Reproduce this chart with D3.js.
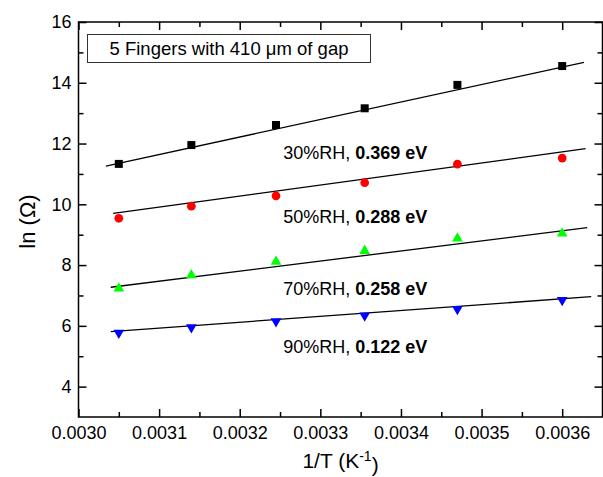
<!DOCTYPE html>
<html>
<head>
<meta charset="utf-8">
<script src="https://cdn.jsdelivr.net/npm/d3@7"></script>
<style>
  body { margin: 0; background: #fff; }
  svg text { font-family: "Liberation Sans", Arial, sans-serif; }
</style>
</head>
<body>
<svg id="chart" width="603" height="477"></svg>
<script>
// inverse temperature, 1/T (K^-1)
var invT = [0.00305, 0.00314, 0.003245, 0.003355, 0.00347, 0.0036];

var rh30 = [11.33, 11.95, 12.61, 13.16, 13.93, 14.55];
var rh50 = [9.54, 9.94, 10.28, 10.71, 11.32, 11.52];
var rh70 = [7.23, 7.67, 8.11, 8.47, 8.88, 9.04];
var rh90 = [5.77, 5.95, 6.15, 6.34, 6.55, 6.85];

// linear fits: [x0, y0, x1, y1]
var fit30 = [0.003034, 11.26, 0.003627, 14.67];
var fit50 = [0.003043, 9.70, 0.003629, 11.83];
var fit70 = [0.003040, 7.27, 0.003631, 9.23];
var fit90 = [0.003040, 5.81, 0.003636, 6.96];

var rhLabels = ["30%RH, ", "50%RH, ", "70%RH, ", "90%RH, "];
var energies = ["0.369 eV", "0.288 eV", "0.258 eV", "0.122 eV"];
var labelY = [11.48, 9.375, 7.015, 5.10];
var labelX = 0.003254;

var xTicks = [0.0030, 0.0031, 0.0032, 0.0033, 0.0034, 0.0035, 0.0036];
var xMinor = [0.00305, 0.00315, 0.00325, 0.00335, 0.00345, 0.00355];
var yTicks = [4, 6, 8, 10, 12, 14, 16];
var yMinor = [5, 7, 9, 11, 13, 15];

var series = [
  {vals: rh30, fit: fit30, shape: d3.symbolSquare, size: 64, color: "#000000", rot: 0},
  {vals: rh50, fit: fit50, shape: d3.symbolCircle, size: 60, color: "#ff0000", rot: 0},
  {vals: rh70, fit: fit70, shape: d3.symbolTriangle, size: 50, color: "#00ff00", rot: 0},
  {vals: rh90, fit: fit90, shape: d3.symbolTriangle, size: 50, color: "#0000ff", rot: 180}
];

var svg = d3.select("#chart"),
    margin = {top: 22, left: 78.5, bottom: 60, right: 0.5},
    width = +svg.attr("width"),
    height = +svg.attr("height");

var x = d3.scaleLinear()
    .domain([0.0030, 0.00365])
    .range([margin.left, width - margin.right]);

var y = d3.scaleLinear()
    .domain([3, 16])
    .range([height - margin.bottom, margin.top]);

var fmt = d3.format(".4f");

// bottom axis with labels, ticks inward
svg.append("g")
    .attr("class", "x-axis")
    .attr("transform", `translate(0,${y(3)})`)
    .call(d3.axisBottom(x).tickValues(xTicks).tickFormat(fmt).tickSize(-8).tickPadding(9.7));
svg.append("g")
    .attr("transform", `translate(0,${y(3)})`)
    .call(d3.axisBottom(x).tickValues(xMinor).tickFormat("").tickSize(-5));

// top mirror
svg.append("g")
    .attr("transform", `translate(0,${y(16)})`)
    .call(d3.axisTop(x).tickValues(xTicks).tickFormat("").tickSize(-8));
svg.append("g")
    .attr("transform", `translate(0,${y(16)})`)
    .call(d3.axisTop(x).tickValues(xMinor).tickFormat("").tickSize(-5));

// left axis
svg.append("g")
    .attr("class", "y-axis")
    .attr("transform", `translate(${x(0.0030)},0)`)
    .call(d3.axisLeft(y).tickValues(yTicks).tickSize(-8).tickPadding(7));
svg.append("g")
    .attr("transform", `translate(${x(0.0030)},0)`)
    .call(d3.axisLeft(y).tickValues(yMinor).tickFormat("").tickSize(-5));

// right mirror
svg.append("g")
    .attr("transform", `translate(${x(0.00365)},0)`)
    .call(d3.axisRight(y).tickValues(yTicks).tickFormat("").tickSize(-8));
svg.append("g")
    .attr("transform", `translate(${x(0.00365)},0)`)
    .call(d3.axisRight(y).tickValues(yMinor).tickFormat("").tickSize(-5));

svg.selectAll(".domain").remove();
svg.selectAll(".tick line").attr("stroke", "#000").attr("stroke-width", 1.5);
svg.selectAll(".tick text")
    .attr("fill", "#000")
    .style("font-size", "18px");

// frame
svg.append("rect")
    .attr("x", x(0.0030))
    .attr("y", y(16))
    .attr("width", x(0.00365) - x(0.0030))
    .attr("height", y(3) - y(16))
    .attr("fill", "none")
    .attr("stroke", "#000")
    .attr("stroke-width", 1.5);

// fit lines
svg.selectAll(".fit")
    .data(series)
    .enter().append("line")
    .attr("class", "fit")
    .attr("x1", d => x(d.fit[0]))
    .attr("y1", d => y(d.fit[1]))
    .attr("x2", d => x(d.fit[2]))
    .attr("y2", d => y(d.fit[3]))
    .attr("stroke", "#000")
    .attr("stroke-width", 1.3);

// markers
series.forEach(function(s) {
    svg.append("g").selectAll("path")
        .data(s.vals)
        .enter().append("path")
        .attr("d", d3.symbol().type(s.shape).size(s.size))
        .attr("transform", (d, i) => `translate(${x(invT[i])},${y(d)}) rotate(${s.rot})`)
        .attr("fill", s.color);
});

// annotations
var ann = svg.selectAll(".ann")
    .data(rhLabels)
    .enter().append("text")
    .attr("class", "ann")
    .attr("x", x(labelX))
    .attr("y", (d, i) => y(labelY[i]))
    .style("font-size", "18px");
ann.append("tspan").text(d => d);
ann.append("tspan").style("font-weight", "bold").text((d, i) => energies[i]);

// legend box
svg.append("rect")
    .attr("x", 87.5)
    .attr("y", 34.5)
    .attr("width", 283)
    .attr("height", 28)
    .attr("fill", "#fff")
    .attr("stroke", "#333")
    .attr("stroke-width", 1);
svg.append("text")
    .attr("x", 229)
    .attr("y", 55)
    .attr("text-anchor", "middle")
    .style("font-size", "18.5px")
    .text("5 Fingers with 410 \u03bcm of gap");

// axis titles
var xt = svg.append("text")
    .attr("x", (x(0.0030) + x(0.00365)) / 2)
    .attr("y", 468)
    .attr("text-anchor", "middle")
    .style("font-size", "21px");
xt.append("tspan").text("1/T (K");
xt.append("tspan").attr("dy", "-0.5em").style("font-size", "14px").text("-1");
xt.append("tspan").attr("dy", "0.5em").text(")");

svg.append("text")
    .attr("transform", `translate(35,${(y(3) + y(16)) / 2 + 2}) rotate(-90)`)
    .attr("text-anchor", "middle")
    .style("font-size", "22px")
    .text("ln (\u03a9)");
</script>
</body>
</html>
